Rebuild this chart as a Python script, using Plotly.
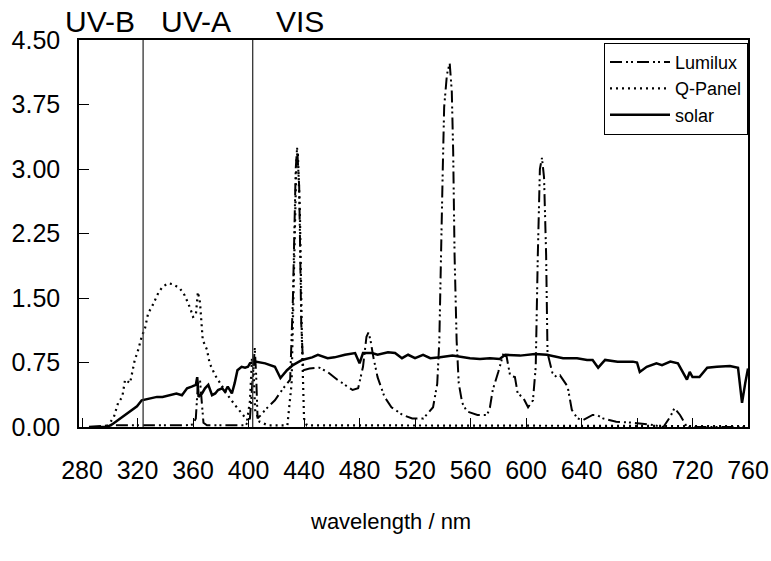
import plotly.graph_objects as go

# ---------------- data ----------------
lumilux_wl = [285, 300, 355, 360, 362, 363.5, 365, 366, 367.5, 370, 398, 401, 403, 404.5, 405.5, 406.5,
              409, 412, 419, 425, 430, 432, 434, 435, 436.5, 438, 439.5, 444, 451, 457, 464, 470, 475,
              479, 482.5, 485, 486.5, 488, 490, 493, 498, 503, 511, 518, 526, 533, 536, 537.5, 539,
              540, 541, 543, 545, 546.5, 547.5, 548.5, 550, 551.5, 554, 557.5, 565, 572, 574, 576, 580,
              583.5, 586, 588.5, 592, 594, 598, 601.5, 605, 607, 608.5, 610, 611.5, 613, 614.5, 615.5,
              619, 622, 624.5, 628, 630, 633, 637, 641, 648, 651, 655.5, 665, 677, 689, 699, 704, 707,
              711, 716, 760]
lumilux_val = [0.0, 0.02, 0.02, 0.03, 0.1, 0.5, 0.55, 0.3, 0.05, 0.02, 0.02, 0.1, 0.6, 0.92, 0.6, 0.1,
               0.14, 0.2, 0.31, 0.45, 0.55, 1.5, 3.0, 3.25, 2.8, 1.2, 0.66, 0.68, 0.69, 0.64, 0.55, 0.49,
               0.43, 0.45, 0.70, 1.05, 1.1, 1.0, 0.81, 0.58, 0.35, 0.23, 0.14, 0.10, 0.10, 0.23, 0.5, 1.0,
               2.0, 3.0, 3.72, 4.1, 4.23, 3.9, 3.2, 2.0, 1.0, 0.51, 0.28, 0.18, 0.14, 0.14, 0.23, 0.43,
               0.64, 0.84, 0.82, 0.6, 0.58, 0.39, 0.34, 0.23, 0.31, 0.7, 2.0, 3.0, 3.13, 2.9, 2.0, 0.86,
               0.63, 0.58, 0.60, 0.52, 0.47, 0.2, 0.1, 0.08, 0.14, 0.14, 0.1, 0.06, 0.05, 0.03, 0.0, 0.12,
               0.22, 0.14, 0.0, 0.0]

qpanel_wl = [285, 296, 299, 303, 306, 309, 311, 314.6, 318, 320, 323, 325.4, 327.6, 331, 335, 338, 342,
             345.6, 350.6, 354, 358, 360, 362, 363.5, 365, 366, 367, 370, 372, 376, 381, 385, 390, 395,
             399, 401, 402.5, 403.5, 404.7, 408, 414, 428, 431, 433, 434.5, 435.5, 437, 438.5, 440, 442,
             760]
qpanel_val = [0.0, 0.0, 0.02, 0.12, 0.28, 0.35, 0.55, 0.51, 0.78, 0.87, 1.05, 1.15, 1.32, 1.42, 1.56,
              1.63, 1.67, 1.66, 1.61, 1.53, 1.38, 1.28, 1.30, 1.57, 1.45, 1.21, 1.01, 0.90, 0.74, 0.60,
              0.47, 0.37, 0.26, 0.16, 0.08, 0.30, 0.80, 0.72, 0.20, 0.06, 0.02, 0.02, 0.5, 2.0, 3.1, 3.2,
              2.5, 1.0, 0.1, 0.02, 0.01]

solar_wl = [285, 298, 301.6, 306, 311, 316, 319.6, 323, 327.6, 334, 338, 343, 348, 352, 355.7, 359, 362,
            363, 364, 366.5, 368.6, 371, 373.7, 376, 378, 381, 383, 385, 388, 390, 392, 395, 397.5,
            399.6, 401, 404.7, 412, 419, 423, 427.7, 432, 438.6, 445.8, 450, 457, 462, 469.5, 476.8,
            480, 482.5, 489, 493, 500.5, 505.6, 510.6, 515, 520, 525.8, 531, 538, 547, 559.6, 566.8,
            574, 581, 585, 595.7, 606.5, 615, 626.7, 636.8, 644, 648, 652, 657, 666, 677, 680, 682,
            687, 694, 698, 704, 709.5, 713, 716, 718, 720, 725, 730.6, 737.6, 747, 752.8, 755.7, 758,
            760]
solar_val = [0.0, 0.0, 0.03, 0.08, 0.14, 0.2, 0.24, 0.31, 0.33, 0.35, 0.35, 0.37, 0.39, 0.37, 0.45,
             0.47, 0.49, 0.58, 0.35, 0.39, 0.45, 0.49, 0.37, 0.39, 0.43, 0.45, 0.41, 0.47, 0.39, 0.51,
             0.66, 0.70, 0.69, 0.70, 0.74, 0.76, 0.74, 0.70, 0.57, 0.66, 0.72, 0.78, 0.81, 0.84, 0.80,
             0.81, 0.84, 0.86, 0.74, 0.86, 0.86, 0.84, 0.87, 0.86, 0.80, 0.84, 0.80, 0.84, 0.80, 0.81,
             0.83, 0.80, 0.79, 0.80, 0.79, 0.84, 0.83, 0.85, 0.84, 0.80, 0.80, 0.78, 0.78, 0.69, 0.78,
             0.76, 0.76, 0.75, 0.64, 0.70, 0.74, 0.72, 0.76, 0.74, 0.63, 0.55, 0.64, 0.58, 0.58, 0.69,
             0.70, 0.71, 0.69, 0.28, 0.51, 0.68]

x_ticks = [280, 320, 360, 400, 440, 480, 520, 560, 600, 640, 680, 720, 760]
y_ticks = [0.0, 0.75, 1.5, 2.25, 3.0, 3.75, 4.5]
region_bounds = [324, 403]
region_labels = ["UV-B", "UV-A", "VIS"]
region_label_x = [0.031, 0.175, 0.330]

FONT = "Liberation Sans, Arial, Helvetica, sans-serif"

fig = go.Figure()
fig.add_trace(go.Scatter(x=lumilux_wl, y=lumilux_val, mode="lines", name="Lumilux",
                         line=dict(color="black", width=2, dash="12px,4px,2px,3px,2px,4px")))
fig.add_trace(go.Scatter(x=qpanel_wl, y=qpanel_val, mode="lines", name="Q-Panel",
                         line=dict(color="black", width=2.2, dash="2px,4px")))
fig.add_trace(go.Scatter(x=solar_wl, y=solar_val, mode="lines", name="solar",
                         line=dict(color="black", width=2.5)))

for b in region_bounds:
    fig.add_shape(type="line", xref="x", yref="paper", x0=b, x1=b, y0=0, y1=1,
                  line=dict(color="#333", width=1.3))

for lab, px in zip(region_labels, region_label_x):
    fig.add_annotation(text=lab, x=px, y=1.0, xref="paper", yref="paper", yshift=1,
                       showarrow=False, xanchor="center", yanchor="bottom", borderpad=0,
                       font=dict(family=FONT, size=30, color="black"))

fig.add_annotation(text="wavelength / nm", x=0.465, y=-0.243, xref="paper", yref="paper",
                   showarrow=False, xanchor="center", yanchor="middle",
                   font=dict(family=FONT, size=22, color="black"))

fig.update_layout(
    width=771, height=561,
    margin=dict(l=79, r=23, t=40, b=134, autoexpand=False),
    paper_bgcolor="white", plot_bgcolor="white",
    font=dict(family=FONT, color="black"),
    showlegend=True,
    legend=dict(x=1.0, xanchor="right", y=0.993, yanchor="top",
                bordercolor="black", borderwidth=1, bgcolor="white",
                font=dict(family=FONT, size=18, color="black"),
                tracegroupgap=0, itemwidth=60),
)
fig.update_xaxes(range=[277.8, 760], tickvals=x_ticks, ticks="inside", ticklen=9,
                 tickcolor="black", tickwidth=1, showline=True, mirror=True,
                 linecolor="black", linewidth=1.5, showgrid=False, zeroline=False,
                 automargin=False,
                 tickfont=dict(family=FONT, size=25, color="black"), ticklabelstandoff=20)
fig.update_yaxes(range=[0, 4.5], tickvals=y_ticks, tickformat=".2f", ticks="inside",
                 ticklen=10, tickcolor="black", tickwidth=1, showline=True, mirror=True,
                 linecolor="black", linewidth=1.5, showgrid=False, zeroline=False,
                 automargin=False,
                 tickfont=dict(family=FONT, size=25, color="black"), ticklabelstandoff=12)

# remove the browser's default 8 px body margin so the 771x561 figure fills the window exactly
fig.write_html("out.html", config={"displayModeBar": False},
               post_script="document.body.style.margin='0';document.body.style.overflow='hidden';")
